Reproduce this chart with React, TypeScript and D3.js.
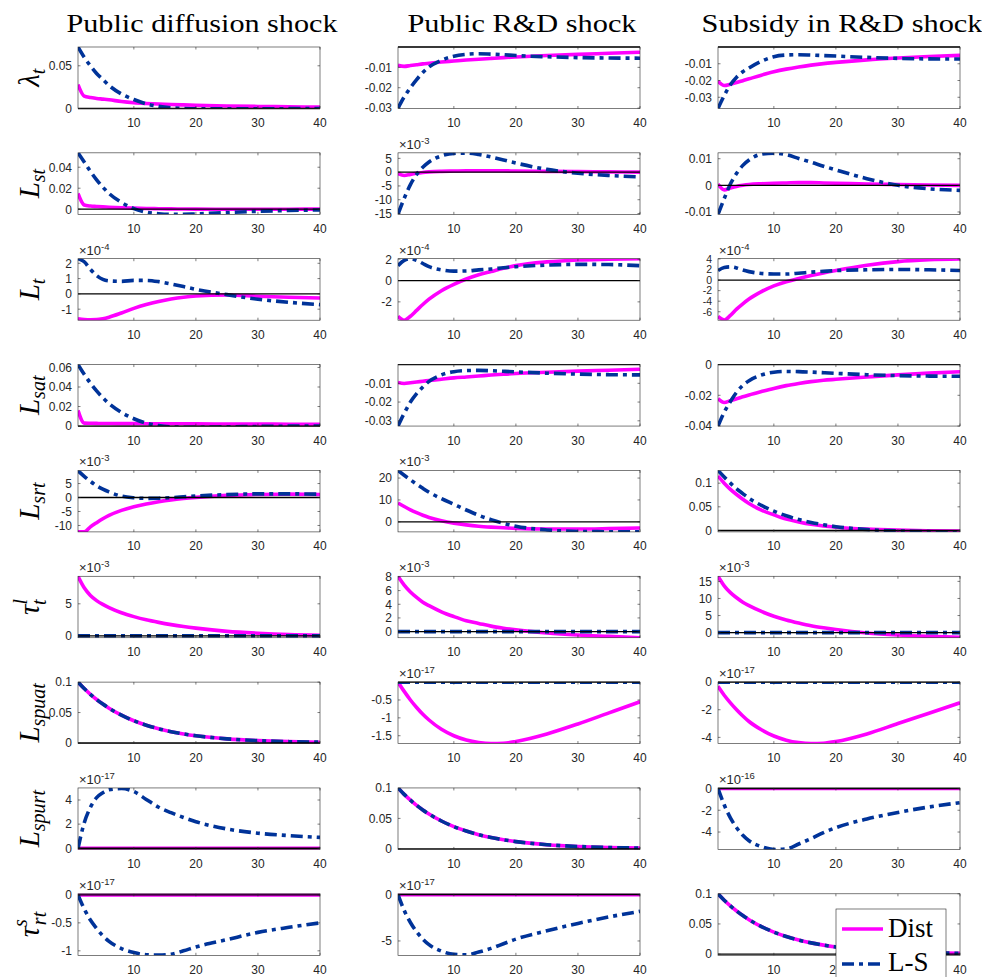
import React from "react";
import * as d3 from "d3";

const T = [1, 2, 3, 4, 5, 6, 8, 10, 12, 14, 16, 18, 20, 25, 30, 35, 40];
const xTicks = [10, 20, 30, 40];

const titles = ["Public diffusion shock", "Public R&D shock", "Subsidy in R&D shock"];
const titleWidths = [271, 229, 281];

const zeroPath = [0, 0, 0, 0, 0, 0, 0, 0, 0, 0, 0, 0, 0, 0, 0, 0, 0];
const shockPath = [0.1, 0.0894, 0.0799, 0.0714, 0.0639, 0.0571, 0.0457, 0.0365, 0.0292, 0.0233, 0.0186, 0.0149, 0.0119, 0.0068, 0.0039, 0.0022, 0.0013];

// lambda_t
const lamDiffDist = [0.028, 0.0145, 0.0128, 0.0118, 0.011, 0.0102, 0.0082, 0.0068, 0.0059, 0.0052, 0.0047, 0.0042, 0.0038, 0.003, 0.0024, 0.002, 0.0016];
const lamDiffLS = [0.072, 0.06, 0.05, 0.041, 0.034, 0.027, 0.017, 0.0105, 0.0055, 0.0025, 0.0008, 0.0001, -0.0003, -0.0004, -0.0003, -0.0002, -0.0001];
const lamRDDist = [-0.009, -0.0095, -0.0091, -0.0087, -0.0083, -0.008, -0.0074, -0.0069, -0.0064, -0.006, -0.0056, -0.0052, -0.0049, -0.0042, -0.0036, -0.0031, -0.0026];
const lamRDLS = [-0.03, -0.0245, -0.02, -0.016, -0.0125, -0.0098, -0.0065, -0.0045, -0.0036, -0.0033, -0.0035, -0.0038, -0.0042, -0.0048, -0.0052, -0.0054, -0.0055];
const lamSubDist = [-0.0205, -0.023, -0.0222, -0.0212, -0.0201, -0.019, -0.0168, -0.0148, -0.0132, -0.0119, -0.0108, -0.0099, -0.0092, -0.0077, -0.0066, -0.0057, -0.005];
const lamSubLS = [-0.0367, -0.029, -0.0225, -0.018, -0.0148, -0.0125, -0.0085, -0.0058, -0.0048, -0.0046, -0.0048, -0.0051, -0.0054, -0.0062, -0.0068, -0.0071, -0.0072];

// L_st
const lstDiffDist = [0.015, 0.004, 0.003, 0.0026, 0.0022, 0.0019, 0.0014, 0.001, 0.0007, 0.0005, 0.0003, 0.0002, 0.0001, 0, -0.0001, 0, 0.0001];
const lstDiffLS = [0.0537, 0.045, 0.036, 0.028, 0.021, 0.015, 0.0065, 0.0005, -0.0028, -0.0043, -0.0049, -0.0048, -0.0045, -0.0032, -0.002, -0.0012, -0.0007];
const lstRDDist = [-0.5, -1.2, -0.8, -0.4, -0.1, 0.1, 0.3, 0.4, 0.5, 0.5, 0.5, 0.5, 0.4, 0.3, 0.2, 0.1, 0];
const lstRDLS = [-15.2, -9.5, -4.5, -0.8, 1.8, 3.7, 5.9, 6.8, 6.9, 6.4, 5.5, 4.4, 3.3, 1.0, -0.4, -1.2, -1.7];
const lstSubDist = [0.0005, -0.0017, -0.001, -0.0004, 0, 0.0003, 0.0006, 0.0008, 0.0009, 0.001, 0.001, 0.0009, 0.0008, 0.0005, 0.0003, 0.0001, 0];
const lstSubLS = [-0.0109, -0.005, 0.0005, 0.0045, 0.0075, 0.0095, 0.0117, 0.0121, 0.0115, 0.0101, 0.0087, 0.0072, 0.0058, 0.0025, 0, -0.0013, -0.0019];

// L_t (x 1e-4)
const ltDiffDist = [-1.62, -1.67, -1.69, -1.68, -1.62, -1.52, -1.25, -0.95, -0.7, -0.5, -0.34, -0.22, -0.14, -0.07, -0.15, -0.22, -0.27];
const ltDiffLS = [2.3, 2.1, 1.6, 1.2, 0.95, 0.85, 0.82, 0.88, 0.88, 0.8, 0.65, 0.48, 0.3, -0.05, -0.35, -0.55, -0.7];
const ltRDDist = [-3.35, -3.72, -3.35, -2.8, -2.25, -1.75, -0.95, -0.35, 0.15, 0.55, 0.85, 1.15, 1.4, 1.75, 1.93, 2.0, 2.05];
const ltRDLS = [1.4, 1.9, 2.05, 1.9, 1.6, 1.3, 1.0, 0.88, 0.9, 1.0, 1.08, 1.2, 1.3, 1.45, 1.52, 1.5, 1.4];
const ltSubDist = [-6.9, -7.55, -6.7, -5.5, -4.5, -3.6, -2.2, -1.1, -0.3, 0.3, 0.85, 1.35, 1.8, 2.8, 3.5, 3.85, 4.0];
const ltSubLS = [1.8, 2.4, 2.5, 2.3, 1.9, 1.6, 1.25, 1.15, 1.15, 1.3, 1.5, 1.65, 1.8, 1.95, 2.0, 1.95, 1.8];

// L_sat
const lsatDiffDist = [0.016, 0.003, 0.0028, 0.0027, 0.0026, 0.0026, 0.0025, 0.0025, 0.0024, 0.0024, 0.0023, 0.0023, 0.0022, 0.0021, 0.002, 0.0019, 0.0018];
const lsatDiffLS = [0.063, 0.053, 0.044, 0.036, 0.029, 0.023, 0.014, 0.0075, 0.003, 0.0005, -0.0008, -0.0012, -0.0012, -0.0008, -0.0004, -0.0001, 0];
const lsatRDDist = [-0.0095, -0.0101, -0.0097, -0.0093, -0.0089, -0.0085, -0.0078, -0.0071, -0.0066, -0.0061, -0.0056, -0.0052, -0.0048, -0.0041, -0.0035, -0.003, -0.0025];
const lsatRDLS = [-0.0328, -0.026, -0.02, -0.0155, -0.012, -0.009, -0.0055, -0.0038, -0.0032, -0.0031, -0.0033, -0.0036, -0.0039, -0.0046, -0.0051, -0.0054, -0.0055];
const lsatSubDist = [-0.0222, -0.0247, -0.0235, -0.0222, -0.021, -0.0198, -0.0176, -0.0155, -0.0137, -0.0123, -0.0111, -0.0102, -0.0096, -0.0081, -0.0067, -0.0056, -0.0047];
const lsatSubLS = [-0.04, -0.031, -0.024, -0.018, -0.0135, -0.0105, -0.0068, -0.005, -0.0045, -0.0046, -0.0049, -0.0053, -0.0057, -0.0066, -0.0072, -0.0075, -0.0076];

// L_srt
const lsrtDiffDist = [-12.3, -12.3, -10.5, -9.0, -7.6, -6.4, -4.6, -3.3, -2.3, -1.5, -0.85, -0.35, 0.05, 0.75, 1.1, 1.2, 1.1];
const lsrtDiffLS = [9.6, 7.6, 5.8, 4.2, 3.0, 2.0, 0.5, -0.1, -0.3, -0.25, -0.05, 0.25, 0.55, 1.05, 1.3, 1.3, 1.2];
const lsrtRDDist = [8.6, 7.0, 5.5, 4.2, 3.0, 2.0, 0.5, -0.6, -1.4, -2.0, -2.4, -2.7, -3.0, -3.3, -3.3, -3.1, -2.8];
const lsrtRDLS = [23.5, 21.3, 19.2, 17.2, 15.3, 13.5, 10.6, 8.0, 5.4, 3.0, 1.0, -0.7, -2.0, -3.7, -4.4, -4.5, -4.5];
const lsrtSubDist = [0.115, 0.1, 0.087, 0.076, 0.066, 0.057, 0.043, 0.033, 0.024, 0.018, 0.013, 0.0095, 0.007, 0.003, 0.0008, -0.0005, -0.001];
const lsrtSubLS = [0.127, 0.113, 0.1, 0.088, 0.078, 0.068, 0.053, 0.041, 0.031, 0.023, 0.017, 0.012, 0.008, 0.002, -0.001, -0.0025, -0.003];

// tau^l_t (x 1e-3)
const taulDiffDist = [9.3, 7.5, 6.3, 5.5, 4.9, 4.4, 3.6, 3.0, 2.5, 2.1, 1.75, 1.45, 1.2, 0.7, 0.4, 0.2, 0.1];
const taulRDDist = [8.1, 6.8, 5.8, 5.0, 4.3, 3.8, 2.9, 2.2, 1.6, 1.2, 0.8, 0.5, 0.25, -0.2, -0.5, -0.7, -0.9];
const taulSubDist = [16.5, 13.7, 11.7, 10.2, 8.9, 7.9, 6.2, 4.8, 3.7, 2.8, 2.0, 1.4, 0.9, -0.1, -0.7, -1.1, -1.4];

// L_spuat (x 1e-17)
const lspuatRDDist = [0, -0.26, -0.5, -0.71, -0.9, -1.06, -1.32, -1.5, -1.62, -1.69, -1.72, -1.71, -1.66, -1.45, -1.17, -0.86, -0.55];
const lspuatSubDist = [-0.3, -0.95, -1.5, -2.0, -2.45, -2.85, -3.45, -3.9, -4.2, -4.38, -4.45, -4.42, -4.3, -3.75, -3.0, -2.25, -1.5];

// L_spurt
const lspurtDiffLS = [0, 2.1, 3.4, 4.2, 4.6, 4.85, 4.95, 4.7, 4.05, 3.4, 2.95, 2.55, 2.2, 1.6, 1.25, 1.05, 0.9];
const lspurtSubLS = [0, -1.5, -2.7, -3.6, -4.3, -4.8, -5.35, -5.6, -5.55, -5.1, -4.6, -4.05, -3.6, -2.8, -2.2, -1.7, -1.3];

// tau^s_rt (x 1e-17)
const tausDiffLS = [0, -0.25, -0.45, -0.6, -0.73, -0.83, -0.96, -1.03, -1.07, -1.075, -1.06, -1.0, -0.93, -0.8, -0.67, -0.58, -0.5];
const tausRDLS = [0, -1.7, -3.0, -4.0, -4.8, -5.4, -6.1, -6.45, -6.5, -6.2, -5.8, -5.3, -4.8, -3.9, -3.1, -2.4, -1.8];

const distSeries = [
  [lamDiffDist, lamRDDist, lamSubDist],
  [lstDiffDist, lstRDDist, lstSubDist],
  [ltDiffDist, ltRDDist, ltSubDist],
  [lsatDiffDist, lsatRDDist, lsatSubDist],
  [lsrtDiffDist, lsrtRDDist, lsrtSubDist],
  [taulDiffDist, taulRDDist, taulSubDist],
  [shockPath, lspuatRDDist, lspuatSubDist],
  [zeroPath, shockPath, zeroPath],
  [zeroPath, zeroPath, shockPath],
];
const lsSeries = [
  [lamDiffLS, lamRDLS, lamSubLS],
  [lstDiffLS, lstRDLS, lstSubLS],
  [ltDiffLS, ltRDLS, ltSubLS],
  [lsatDiffLS, lsatRDLS, lsatSubLS],
  [lsrtDiffLS, lsrtRDLS, lsrtSubLS],
  [zeroPath, zeroPath, zeroPath],
  [shockPath, zeroPath, zeroPath],
  [lspurtDiffLS, shockPath, lspurtSubLS],
  [tausDiffLS, tausRDLS, shockPath],
];

const yDomains: [number, number][][] = [
  [[0, 0.072], [-0.0302, 0], [-0.0367, 0]],
  [[-0.0049, 0.0537], [-15.3, 7.0], [-0.0109, 0.0122]],
  [[-1.72, 2.3], [-3.72, 2.05], [-7.6, 4.05]],
  [[0, 0.063], [-0.0328, 0], [-0.04, 0]],
  [[-12.3, 9.7], [-4.6, 23.5], [-0.003, 0.127]],
  [[-0.3, 9.3], [-0.9, 8.1], [-1.5, 16.5]],
  [[-0.001, 0.1], [-1.72, 0], [-4.45, 0]],
  [[-0.1, 5.0], [-0.001, 0.1], [-5.6, 0.05]],
  [[-1.08, 0.02], [-6.55, 0.1], [-0.002, 0.1]],
];
const yTicks = [
  [[0, 0.05], [-0.03, -0.02, -0.01], [-0.03, -0.02, -0.01]],
  [[0, 0.02, 0.04], [-15, -10, -5, 0, 5], [-0.01, 0, 0.01]],
  [[-1, 0, 1, 2], [-2, 0, 2], [-6, -4, -2, 0, 2, 4]],
  [[0, 0.02, 0.04, 0.06], [-0.03, -0.02, -0.01], [-0.04, -0.02, 0]],
  [[-10, -5, 0, 5], [0, 10, 20], [0, 0.05, 0.1]],
  [[0, 5], [0, 2, 4, 6, 8], [0, 5, 10, 15]],
  [[0, 0.05, 0.1], [-1.5, -1, -0.5], [-4, -2, 0]],
  [[0, 2, 4], [0, 0.05, 0.1], [-4, -2, 0]],
  [[-1, -0.5, 0], [-5, 0], [0, 0.05, 0.1]],
];
const yExponents = [
  ["", "", ""],
  ["", "-3", ""],
  ["-4", "-4", "-4"],
  ["", "", ""],
  ["-3", "-3", ""],
  ["-3", "-3", "-3"],
  ["", "-17", "-17"],
  ["-17", "", "-16"],
  ["-17", "-17", ""],
];

const rowLabels = [
  { base: "λ", sub: "t" },
  { base: "L", sub: "st" },
  { base: "L", sub: "t" },
  { base: "L", sub: "sat" },
  { base: "L", sub: "srt" },
  { base: "τ", sup: "l", sub: "t" },
  { base: "L", sub: "spuat" },
  { base: "L", sub: "spurt" },
  { base: "τ", sup: "s", sub: "rt" },
];

const legendLabels = ["Dist", "L-S"];

const MAGENTA = "#ff00ff";
const BLUE = "#003399";
const AXIS = "#262626";
const DASH = "12,5,4,5";
const SANS = "'Liberation Sans', Arial, sans-serif";
const SERIF = "'Liberation Serif', 'Times New Roman', serif";

const colLeft = [78, 398, 718];
const plotW = 242;
const rowTop0 = 47;
const rowStep = 105.85;
const plotH = 61.5;

// legend box (sits over the bottom-right panel)
const legX = 836;
const legY = 909;
const legW = 110;

function Panel({ r, c }: { r: number; c: number }) {
  const x0 = colLeft[c];
  const y0 = rowTop0 + r * rowStep;
  const x = d3.scaleLinear().domain([1, 40]).range([x0, x0 + plotW]);
  const y = d3.scaleLinear().domain(yDomains[r][c]).range([y0 + plotH, y0]);
  const line = d3
    .line<number>()
    .x((_, i) => x(T[i]))
    .y((d) => y(d))
    .curve(d3.curveMonotoneX);
  const id = `clip-${r}-${c}`;
  const tl = 2.5;
  const exp = yExponents[r][c];
  const ticks = yTicks[r][c];
  // squeeze labels when the ticks sit close together
  const gap = Math.abs(y(ticks[0]) - y(ticks[1]));
  const tickFont = gap < 12 ? 10.5 : 12;
  const isLast = r === 8 && c === 2;
  return (
    <g>
      <clipPath id={id}>
        <rect x={x0} y={y0} width={plotW} height={plotH} />
      </clipPath>
      <g clipPath={`url(#${id})`}>
        <path d={line(distSeries[r][c]) ?? ""} fill="none" stroke={MAGENTA} strokeWidth={3.6} />
        <path d={line(lsSeries[r][c]) ?? ""} fill="none" stroke={BLUE} strokeWidth={3.6} strokeDasharray={DASH} />
      </g>
      <line x1={x0} x2={x0 + plotW} y1={y(0)} y2={y(0)} stroke="#000" strokeWidth={1.3} />
      <rect x={x0} y={y0} width={plotW} height={plotH} fill="none" stroke={AXIS} strokeWidth={0.6} />
      {xTicks.map((t) => {
        // labels fully hidden by the legend are not drawn
        const hidden = isLast && x(t) - 8 > legX && x(t) + 8 < legX + legW;
        return (
          <g key={`x${t}`}>
            <line x1={x(t)} x2={x(t)} y1={y0 + plotH} y2={y0 + plotH - tl} stroke={AXIS} strokeWidth={0.6} />
            <line x1={x(t)} x2={x(t)} y1={y0} y2={y0 + tl} stroke={AXIS} strokeWidth={0.6} />
            {!hidden && (
              <text x={x(t)} y={y0 + plotH + 18.5} textAnchor="middle" fontFamily={SANS} fontSize={12} fill={AXIS}>
                {t}
              </text>
            )}
          </g>
        );
      })}
      {ticks.map((v) => (
        <g key={`y${v}`}>
          <line x1={x0} x2={x0 + tl} y1={y(v)} y2={y(v)} stroke={AXIS} strokeWidth={0.6} />
          <line x1={x0 + plotW} x2={x0 + plotW - tl} y1={y(v)} y2={y(v)} stroke={AXIS} strokeWidth={0.6} />
          <text x={x0 - 6} y={y(v)} dy="0.36em" textAnchor="end" fontFamily={SANS} fontSize={tickFont} fill={AXIS}>
            {String(v)}
          </text>
        </g>
      ))}
      {exp && (
        <text x={x0 + 1} y={y0 - 4} fontFamily={SANS} fontSize={13} fill={AXIS}>
          ×10
          <tspan fontSize={9.5} dy={-5}>
            {exp}
          </tspan>
        </text>
      )}
    </g>
  );
}

function RowLabel({ r }: { r: number }) {
  const lab = rowLabels[r];
  const cy = rowTop0 + r * rowStep + plotH / 2;
  return (
    <text
      transform={`translate(39,${cy}) rotate(-90)`}
      textAnchor="middle"
      fontFamily={SERIF}
      fontStyle="italic"
      fontSize={29}
      fill="#000"
    >
      <tspan>{lab.base}</tspan>
      {lab.sup ? (
        <>
          <tspan fontSize={20} dy={-12}>
            {lab.sup}
          </tspan>
          <tspan fontSize={20} dx={-6} dy={19}>
            {lab.sub}
          </tspan>
        </>
      ) : (
        <tspan fontSize={20} dy={6}>
          {lab.sub}
        </tspan>
      )}
    </text>
  );
}

export default function App() {
  const rows = d3.range(9);
  const cols = d3.range(3);
  return (
    <svg width={982} height={977} style={{ position: "absolute", left: 0, top: 0, background: "#fff" }}>
      {titles.map((t, c) => (
        <text
          key={t}
          x={colLeft[c] + plotW / 2 + 3}
          y={32}
          textAnchor="middle"
          fontFamily={SERIF}
          fontSize={26}
          textLength={titleWidths[c]}
          lengthAdjust="spacingAndGlyphs"
          fill="#000"
        >
          {t}
        </text>
      ))}
      {rows.map((r) => (
        <g key={r}>
          <RowLabel r={r} />
          {cols.map((c) => (
            <Panel key={c} r={r} c={c} />
          ))}
        </g>
      ))}
      <g>
        <rect x={legX} y={legY} width={legW} height={90} fill="#fff" stroke={AXIS} strokeWidth={0.6} />
        {legendLabels.map((lab, i) => (
          <g key={lab}>
            <line
              x1={legX + 6}
              x2={legX + 47}
              y1={legY + 20 + i * 35}
              y2={legY + 20 + i * 35}
              stroke={i === 0 ? MAGENTA : BLUE}
              strokeWidth={3.6}
              strokeDasharray={i === 0 ? undefined : DASH}
            />
            <text x={legX + 52} y={legY + 28 + i * 34} fontFamily={SERIF} fontSize={27} fill="#000">
              {lab}
            </text>
          </g>
        ))}
      </g>
    </svg>
  );
}
